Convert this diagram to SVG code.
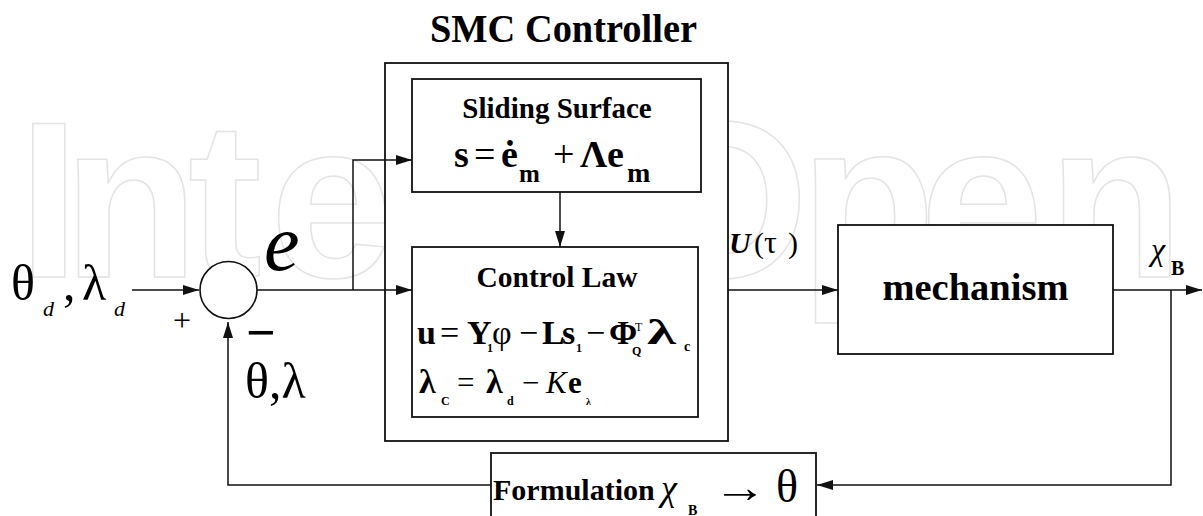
<svg xmlns="http://www.w3.org/2000/svg" width="1203" height="516" viewBox="0 0 1203 516">
<defs>
<style>
.box{fill:#fff;stroke:#111;stroke-width:1.8}
.ln{fill:none;stroke:#111;stroke-width:1.5}
.b{font-weight:bold}
.i{font-style:italic}
.wm{font-family:"Liberation Sans",Arial,sans-serif;font-weight:bold;font-size:222px;fill:#fff;stroke:#e4e4e4;stroke-width:1.5}
</style>
<marker id="ah" markerUnits="userSpaceOnUse" markerWidth="16" markerHeight="10" refX="16" refY="5" orient="auto">
<path d="M0,0 L16,5 L0,10 Z" fill="#111"/>
</marker>
</defs>
<rect width="1203" height="516" fill="#fff"/>
<g id="watermark">
<text class="wm" y="277"><tspan x="18">I</tspan><tspan x="63">n</tspan><tspan x="188">t</tspan><tspan x="270">e</tspan><tspan x="393">c</tspan><tspan x="516">h</tspan><tspan x="636">O</tspan><tspan x="800">p</tspan><tspan x="920">e</tspan><tspan x="1048">n</tspan></text>
</g>

<g font-family="Liberation Serif, Times New Roman, serif" fill="#000">
<g id="title">
<text class="b" x="430" y="42" font-size="41" textLength="267" lengthAdjust="spacingAndGlyphs">SMC Controller</text>
</g>

<g id="smc-controller">
<rect class="box" x="385" y="63" width="343" height="378"/>
</g>

<g id="connectors">
<path class="ln" d="M132,290 H199" marker-end="url(#ah)"/>
<path class="ln" d="M257,290 H412" marker-end="url(#ah)"/>
<path class="ln" d="M353,290 V160 H412" marker-end="url(#ah)"/>
<path class="ln" d="M560,192 V247" marker-end="url(#ah)"/>
<path class="ln" d="M728,290 H838" marker-end="url(#ah)"/>
<path class="ln" d="M1113,290 H1202" marker-end="url(#ah)"/>
<path class="ln" d="M1171,290 V485 H817" marker-end="url(#ah)"/>
<path class="ln" d="M491,485 H228 V322" marker-end="url(#ah)"/>
</g>

<g id="sum">
<circle cx="228.5" cy="290" r="28.5" fill="#fff" stroke="#111" stroke-width="1.6"/>
<text x="173" y="331" font-size="32">+</text>
<text class="b" x="246" y="350" font-size="52">−</text>
</g>

<g id="input-label">
<text y="300" font-size="50"><tspan x="11">θ</tspan><tspan x="43" y="316" font-size="22" font-style="italic">d</tspan><tspan x="63" y="300">,</tspan><tspan x="82">λ</tspan><tspan x="114" y="316" font-size="22" font-style="italic">d</tspan></text>
</g>

<g id="feedback-label">
<text x="245" y="398" font-size="50">θ,λ</text>
</g>

<g id="error-label">
<text class="i" x="264" y="270" font-size="80">e</text>
</g>

<g id="sliding-surface">
<rect class="box" x="412" y="79" width="289" height="113"/>
<text class="b" x="557" y="118" font-size="29" text-anchor="middle">Sliding Surface</text>
<text class="b" y="167" font-size="38"><tspan x="454">s</tspan><tspan x="474" font-weight="normal">=</tspan><tspan x="501">ė</tspan><tspan x="519" y="182" font-size="25">m</tspan><tspan x="553" y="167" font-weight="normal">+</tspan><tspan x="580">Λ</tspan><tspan x="607">e</tspan><tspan x="627" y="182" font-size="28">m</tspan></text>
</g>

<g id="control-law">
<rect class="box" x="412" y="247" width="286" height="170"/>
<text class="b" x="557" y="287" font-size="29.5" text-anchor="middle">Control Law</text>
<text class="b" y="344" font-size="34"><tspan x="417">u</tspan><tspan x="440" font-weight="normal">=</tspan><tspan x="467">Y</tspan><tspan x="487" y="352" font-size="12">1</tspan><tspan x="492" y="344" font-weight="normal">φ</tspan><tspan x="519" font-weight="normal">−</tspan><tspan x="542">L</tspan><tspan x="562">s</tspan><tspan x="576" y="352" font-size="12">1</tspan><tspan x="586" y="344" font-weight="normal">−</tspan><tspan x="609">Φ</tspan><tspan x="632" y="355" font-size="12">Q</tspan><tspan x="635" y="331" font-size="12" font-weight="normal">T</tspan></text>
<text class="b" x="647" y="344" font-size="35" textLength="29" lengthAdjust="spacingAndGlyphs">λ</text>
<text class="b" x="684" y="351" font-size="14">c</text>
<text class="b" y="393" font-size="31"><tspan x="419" font-size="34">λ</tspan><tspan x="441" y="405" font-size="12">C</tspan><tspan x="457" y="393" font-weight="normal">=</tspan><tspan x="486" font-size="34">λ</tspan><tspan x="507" y="405" font-size="12">d</tspan><tspan x="522" y="393" font-weight="normal">−</tspan><tspan x="546" font-weight="normal" font-style="italic">K</tspan><tspan x="568">e</tspan><tspan x="586" y="405" font-size="10">λ</tspan></text>
</g>

<g id="u-label">
<text y="253" font-size="30"><tspan x="729" font-weight="bold" font-style="italic">U</tspan><tspan x="754">(</tspan><tspan x="764" font-size="32">τ</tspan><tspan x="788">)</tspan></text>
</g>

<g id="mechanism">
<rect class="box" x="838" y="225" width="275" height="129"/>
<text class="b" x="975.5" y="300" font-size="38.5" text-anchor="middle">mechanism</text>
</g>

<g id="xb-label">
<text y="260" font-size="32"><tspan x="1151" font-style="italic">χ</tspan><tspan x="1171" y="275" font-size="20" font-weight="bold">B</tspan></text>
</g>

<g id="formulation">
<rect class="box" x="491" y="453" width="325" height="80"/>
<text class="b" x="493" y="500" font-size="30">Formulation</text>
<text class="i" x="661" y="500" font-size="36">χ</text>
<text class="b" x="688" y="515" font-size="14">B</text>
<text x="713" y="502" font-size="44" textLength="54" lengthAdjust="spacingAndGlyphs">→</text>
<text x="776" y="502" font-size="46">θ</text>
</g>
</g>
</svg>
